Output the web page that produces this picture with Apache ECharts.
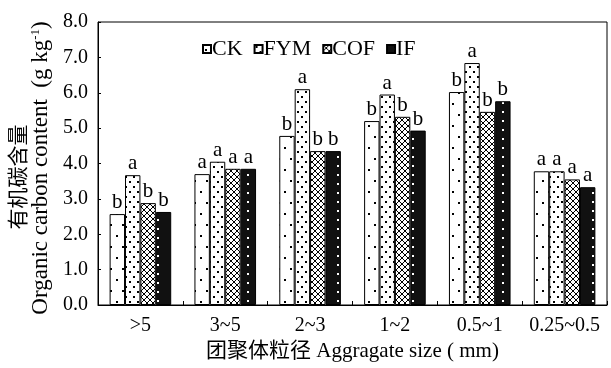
<!DOCTYPE html>
<html><head><meta charset="utf-8">
<script src="https://cdn.jsdelivr.net/npm/echarts@6/dist/echarts.min.js"></script>
<style>html,body{margin:0;padding:0;background:#fff}#c{width:611px;height:368px}</style>
</head><body><div id="c"></div>
<script>
const categories = ['>5', '3~5', '2~3', '1~2', '0.5~1', '0.25~0.5'];
const seriesNames = ['CK', 'FYM', 'COF', 'IF'];
const CK  = [2.57, 3.70, 4.78, 5.20, 6.02, 3.78];
const FYM = [3.67, 4.05, 6.10, 5.95, 6.84, 3.78];
const COF = [2.88, 3.85, 4.35, 5.32, 5.46, 3.55];
const IF  = [2.63, 3.85, 4.35, 4.93, 5.76, 3.33];
const lettersCK  = ['b', 'a', 'b', 'b', 'b', 'a'];
const lettersFYM = ['a', 'a', 'a', 'a', 'a', 'a'];
const lettersCOF = ['b', 'a', 'b', 'b', 'b', 'a'];
const lettersIF  = ['b', 'a', 'b', 'b', 'b', 'a'];
const yTicks = [0, 1, 2, 3, 4, 5, 6, 7, 8];

const FONT = '"Liberation Serif", "Times New Roman", "Noto Sans CJK SC", serif';

function makePattern(kind) {
  const cv = document.createElement('canvas');
  const ctx = cv.getContext('2d');
  if (kind === 'CK') {
    cv.width = 12; cv.height = 22;
    ctx.fillStyle = '#fff'; ctx.fillRect(0, 0, 12, 22);
    ctx.fillStyle = '#000';
    ctx.fillRect(2, 4, 2, 2); ctx.fillRect(8, 15, 2, 2);
  } else if (kind === 'FYM') {
    cv.width = 8; cv.height = 10;
    ctx.fillStyle = '#fff'; ctx.fillRect(0, 0, 8, 10);
    ctx.fillStyle = '#000';
    ctx.fillRect(1, 1, 2, 2); ctx.fillRect(5, 6, 2, 2);
  } else if (kind === 'COF') {
    cv.width = 6; cv.height = 6;
    ctx.fillStyle = '#fff'; ctx.fillRect(0, 0, 6, 6);
    ctx.fillStyle = '#000';
    for (let k = 0; k < 6; k++) { ctx.fillRect(k, k, 1, 1); ctx.fillRect(5 - k, k, 1, 1); }
  } else {
    cv.width = 15; cv.height = 9;
    ctx.fillStyle = '#111'; ctx.fillRect(0, 0, 15, 9);
    ctx.fillStyle = '#fff';
    ctx.fillRect(7, 3, 2, 2);
  }
  return { image: cv, repeat: 'repeat' };
}

const values = [CK, FYM, COF, IF];
const letters = [lettersCK, lettersFYM, lettersCOF, lettersIF];

const chart = echarts.init(document.getElementById('c'), null, { renderer: 'canvas' });
const series = seriesNames.map((n, i) => ({
  name: n,
  type: 'bar',
  data: values[i],
  barWidth: 15.4,
  barGap: '0%',
  itemStyle: { color: makePattern(n), borderColor: '#000', borderWidth: 1 },
  label: {
    show: true, position: 'top', distance: 1,
    color: '#000', fontFamily: FONT, fontSize: 21,
    formatter: p => letters[i][p.dataIndex]
  },
  emphasis: { disabled: true }
}));

chart.setOption({
  animation: false,
  backgroundColor: '#fff',
  grid: { left: 98, right: 4, top: 22, bottom: 63, show: true, borderColor: '#000', borderWidth: 1, backgroundColor: 'transparent' },
  legend: {
    data: seriesNames, left: 197, top: 33, itemWidth: 8, itemHeight: 8, itemGap: 11,
    icon: 'rect',
    textStyle: { fontFamily: FONT, fontSize: 22, color: '#000', padding: [0, 0, 0, -4] }
  },
  xAxis: {
    type: 'category', data: categories,
    axisLine: { lineStyle: { color: '#000', width: 1 } },
    axisTick: { show: true, inside: true, length: 4, lineStyle: { color: '#000' } },
    axisLabel: { color: '#000', fontFamily: FONT, fontSize: 20, margin: 11, interval: 0, hideOverlap: false },
    name: '团聚体粒径 Aggragate size ( mm)', nameLocation: 'middle', nameGap: 36,
    nameTextStyle: { color: '#000', fontFamily: FONT, fontSize: 21 }
  },
  yAxis: {
    type: 'value', min: 0, max: 8, interval: 1,
    axisLine: { show: true, lineStyle: { color: '#000', width: 1 } },
    axisTick: { show: true, inside: true, length: 3, lineStyle: { color: '#000' } },
    splitLine: { show: false },
    axisLabel: { color: '#000', fontFamily: FONT, fontSize: 20, margin: 10, formatter: v => v.toFixed(1) }
  },
  graphic: [
    { type: 'text', x: 17, y: 177, rotation: Math.PI / 2,
      style: { text: '有机碳含量', fontFamily: '"Noto Sans CJK SC", serif', fontSize: 21, fill: '#000', align: 'center', verticalAlign: 'middle' } },
    { type: 'text', x: 41, y: 168, rotation: Math.PI / 2,
      style: { text: '{a|Organic carbon content  (g kg}{s|-1}{a|)}', fontFamily: FONT, fontSize: 23, fill: '#000', align: 'center', verticalAlign: 'middle',
        rich: { a: { fontFamily: FONT, fontSize: 23 }, s: { fontFamily: FONT, fontSize: 13, verticalAlign: 'top', padding: [0, 0, 10, 0] } } } }
  ],
  series: series
});
</script></body></html>
